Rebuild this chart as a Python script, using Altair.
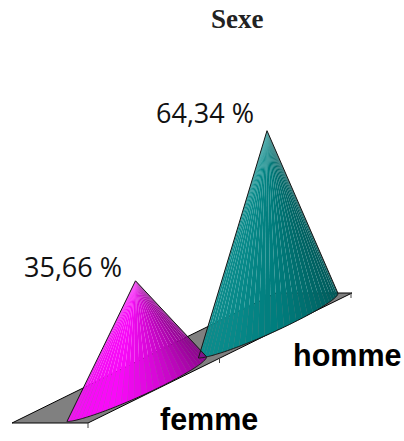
import math
import altair as alt
import pandas as pd

# Survey result: share of respondents by sex
categories = ["femme", "homme"]
shares = [35.66, 64.34]
value_labels = ["35,66 %", "64,34 %"]
chart_title = "Sexe"

# Oblique 3D projection of the chart, in drawing units
base_centres = [(135, 388.5), (266.5, 325)]
base_axis_long = (68, -33)
base_bulge_front = 22
base_bulge_back = 3
height_per_percent = 3.02
floor_outline = [(12, 423), (88, 423), (352, 293), (276, 293)]
tick_feet = [(88, 423), (219.5, 358), (351, 293)]
tick_length = 5

# Facet brightness ramps, lit from the front left
ramps = {
    "femme": [(0.0, (125, 5, 125)), (0.2, (155, 5, 155)), (0.45, (215, 8, 215)),
              (0.65, (248, 10, 248)), (0.85, (245, 12, 245)), (1.0, (235, 25, 235))],
    "homme": [(0.0, (0, 82, 82)), (0.25, (0, 102, 102)), (0.5, (0, 125, 125)),
              (0.75, (8, 138, 138)), (1.0, (14, 140, 140))],
}
facet_count = 32

label_anchors = [(24, 269), (156, 115)]
category_anchors = [(160, 421), (293, 357)]
title_anchor = (211, 28)


def ramp_colour(name, f):
    stops = ramps[name]
    for (f0, c0), (f1, c1) in zip(stops, stops[1:]):
        if f <= f1:
            k = (f - f0) / (f1 - f0)
            rgb = [round(a + (b - a) * k) for a, b in zip(c0, c1)]
            return "#%02x%02x%02x" % tuple(rgb)
    return "#%02x%02x%02x" % stops[-1][1]


def rim(centre, t):
    # Positive sine is the side facing the viewer
    s = math.sin(t)
    bulge = s * (base_bulge_front if s > 0 else base_bulge_back)
    return (centre[0] + math.cos(t) * base_axis_long[0] + bulge,
            centre[1] + math.cos(t) * base_axis_long[1])


facet_rows = []
outline_rows = []
# Back cone first so that the front cone covers it
for cone in (1, 0):
    name = categories[cone]
    centre = base_centres[cone]
    apex = (centre[0] + 0.5, centre[1] - shares[cone] * height_per_percent)

    # Angles whose ray from the apex grazes the rim bound the visible side
    def bearing(t):
        p = rim(centre, t)
        return math.atan2(p[0] - apex[0], p[1] - apex[1])

    dense = [2 * math.pi * i / 720 for i in range(720)]
    t_right = max(dense, key=bearing)
    t_left = min(dense, key=bearing)
    span = (t_left - t_right) % (2 * math.pi)
    front = [t_right + span * i / facet_count for i in range(facet_count + 1)]

    for i in range(facet_count):
        p0, p1 = rim(centre, front[i]), rim(centre, front[i + 1])
        colour = ramp_colour(name, (i + 0.5) / facet_count)
        facet = f"{name}-{i:03d}"
        for k, p in enumerate((apex, p0, p1)):
            facet_rows.append({"facet": facet, "k": k, "x": p[0], "y": p[1], "colour": colour})

    path = [rim(centre, front[0] + span * i / 120) for i in range(121)]
    for k, p in enumerate([apex] + path + [apex]):
        outline_rows.append({"cone": name, "k": k, "x": p[0], "y": p[1]})

x_scale = alt.Scale(domain=[0, 404], range=[0, 404], nice=False, zero=False)
y_scale = alt.Scale(domain=[0, 441], range=[0, 441], nice=False, zero=False)
X = alt.X("x:Q", scale=x_scale, axis=None)
Y = alt.Y("y:Q", scale=y_scale, axis=None)

floor_df = pd.DataFrame(
    [{"k": i, "x": p[0], "y": p[1]} for i, p in enumerate(floor_outline + floor_outline[:1])]
)
floor_fill = alt.Chart(floor_df).mark_line(filled=True, fill="#808080", strokeWidth=0).encode(
    x=X, y=Y, order="k:Q"
)
floor_edge = alt.Chart(floor_df).mark_line(color="#000000", strokeWidth=1).encode(
    x=X, y=Y, order="k:Q"
)

tick_rows = []
for i, (tx, ty) in enumerate(tick_feet):
    tick_rows.append({"tick": i, "x": tx, "y": ty})
    tick_rows.append({"tick": i, "x": tx, "y": ty + tick_length})
ticks = alt.Chart(pd.DataFrame(tick_rows)).mark_line(color="#444444", strokeWidth=1).encode(
    x=X, y=Y, detail="tick:N"
)

facets = alt.Chart(pd.DataFrame(facet_rows)).mark_line(filled=True, strokeWidth=0).encode(
    x=X, y=Y, order="k:Q", detail="facet:N",
    fill=alt.Fill("colour:N", scale=None, legend=None),
)
outlines = alt.Chart(pd.DataFrame(outline_rows)).mark_line(color="#151515", strokeWidth=1).encode(
    x=X, y=Y, order="k:Q", detail="cone:N"
)

label_df = pd.DataFrame({
    "x": [a[0] for a in label_anchors],
    "y": [a[1] for a in label_anchors],
    "text": value_labels,
})
labels = alt.Chart(label_df).mark_text(
    align="left", baseline="middle", font="Open Sans", fontSize=27, color="#111111"
).encode(x=X, y=Y, text="text:N")

category_df = pd.DataFrame({
    "x": [a[0] for a in category_anchors],
    "y": [a[1] for a in category_anchors],
    "text": categories,
})
category_labels = alt.Chart(category_df).mark_text(
    align="left", baseline="middle", font="Liberation Sans", fontWeight="bold",
    fontSize=30.5, color="#000000"
).encode(x=X, y=Y, text="text:N")

title_df = pd.DataFrame({"x": [title_anchor[0]], "y": [title_anchor[1]], "text": [chart_title]})
title = alt.Chart(title_df).mark_text(
    align="left", baseline="alphabetic", font="Liberation Serif", fontWeight="bold",
    fontSize=27, color="#222222"
).encode(x=X, y=Y, text="text:N")

chart = alt.layer(
    floor_fill, floor_edge, ticks, facets, outlines, labels, category_labels, title
).properties(
    width=404,
    height=441,
    padding=0,
    autosize=alt.AutoSizeParams(type="none"),
).configure_view(stroke=None)

chart.save("out.html", embed_options={"renderer": "svg", "actions": False})
